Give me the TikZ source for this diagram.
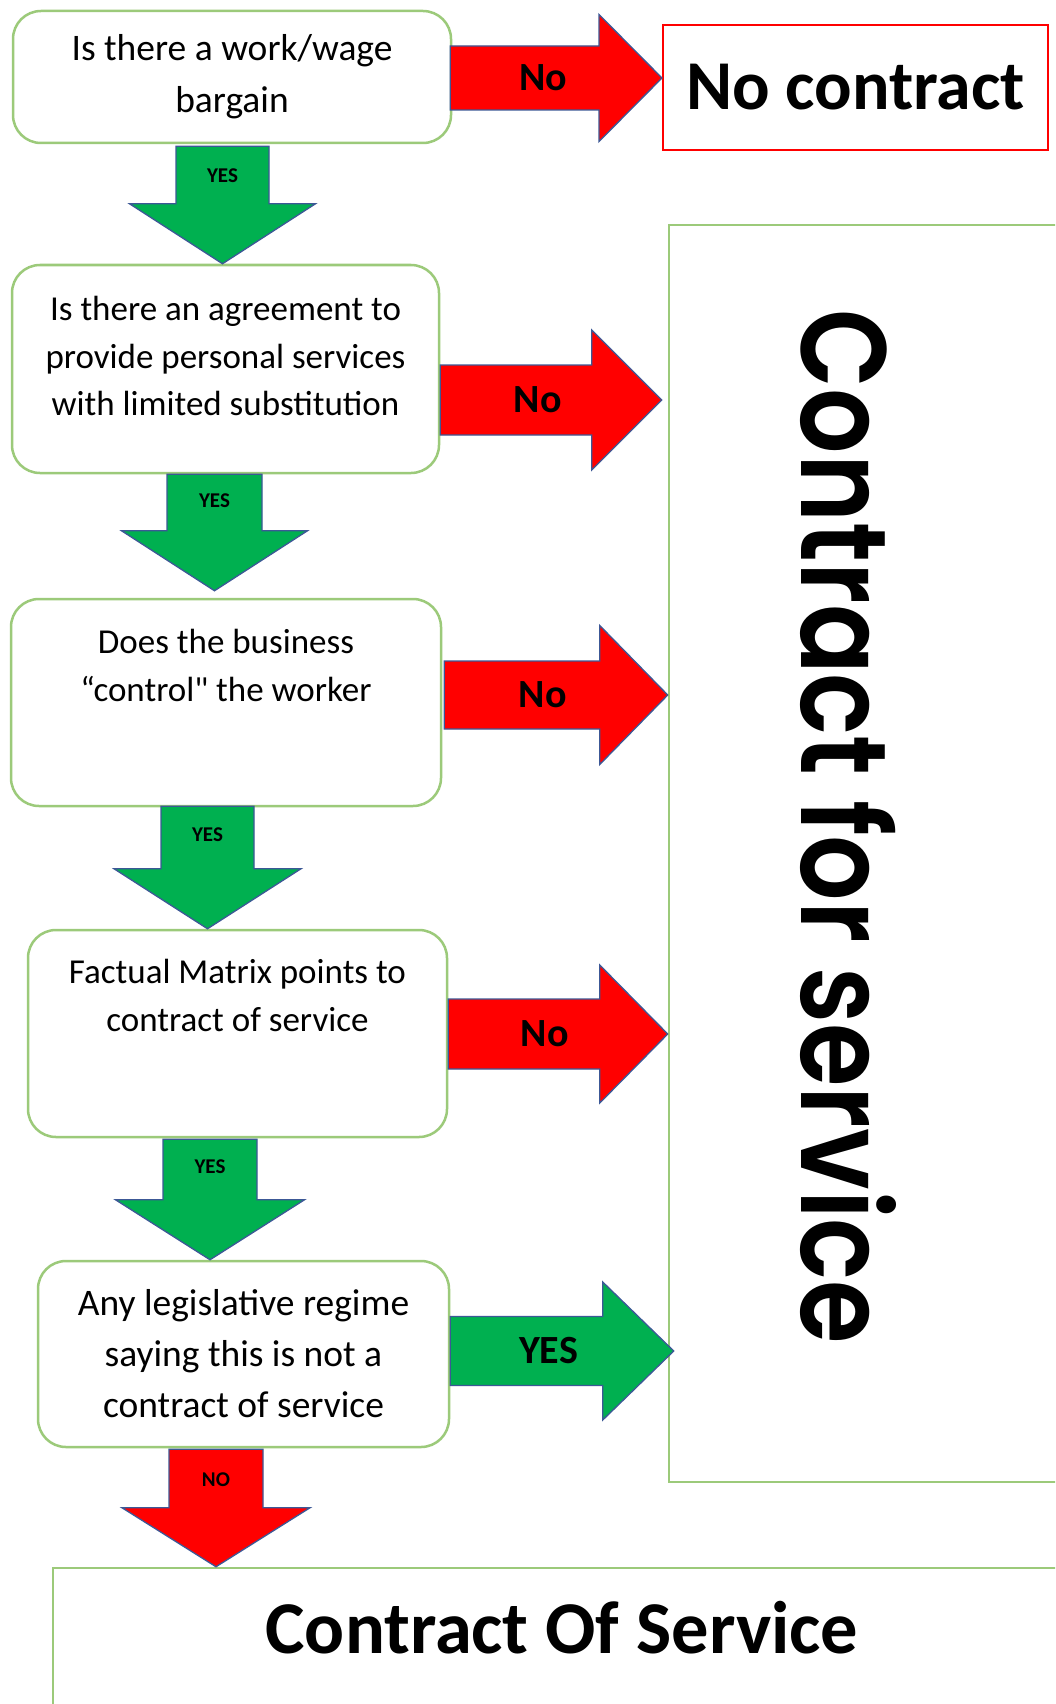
\documentclass[tikz,border=0pt]{standalone}
\usepackage{graphicx}
\usepackage{fontspec}
\setmainfont{Carlito}
\newfontfamily\geofont{Poppins SemiBold}
\usetikzlibrary{calc}

\definecolor{boxgreen}{RGB}{156,202,122}
\definecolor{nogored}{RGB}{255,0,0}
\definecolor{yesgreen}{RGB}{0,176,80}
\definecolor{arrowedge}{RGB}{60,88,150}

% block arrow pointing right: fill, tail, target, shaft half, head half, head length
\newcommand{\harrowbox}[6]{%
  \filldraw[blockarrow, fill=#1]
    ($(#2)+(0,-#4)$) -- ($(#2 -| #3)+(-#6,-#4)$) -- ($(#2 -| #3)+(-#6,-#5)$)
    -- (#2 -| #3) -- ($(#2 -| #3)+(-#6,#5)$) -- ($(#2 -| #3)+(-#6,#4)$)
    -- ($(#2)+(0,#4)$) -- cycle;}
% block arrow pointing down
\newcommand{\varrowbox}[6]{%
  \filldraw[blockarrow, fill=#1]
    ($(#2)+(-#4,0)$) -- ($(#2 |- #3)+(-#4,-#6)$) -- ($(#2 |- #3)+(-#5,-#6)$)
    -- (#2 |- #3) -- ($(#2 |- #3)+(#5,-#6)$) -- ($(#2 |- #3)+(#4,-#6)$)
    -- ($(#2)+(#4,0)$) -- cycle;}
\newcommand{\straightquote}{{\addfontfeatures{Ligatures=TeXOff}"}}

\begin{document}
\begin{tikzpicture}[x=1pt,y=-1pt,
    qbox/.style={draw=boxgreen, line width=2.5pt, rounded corners=28pt, fill=white},
    qtext/.style={align=center, inner sep=0pt},
    endbox/.style={draw=boxgreen, line width=2.5pt},
    blockarrow/.style={draw=arrowedge, line width=1.3pt, line join=miter},
    biglabel/.style={font=\fontsize{40}{40}\selectfont\bfseries},
    smalllabel/.style={font=\fontsize{21}{21}\selectfont\bfseries}]
  \clip (0,0) rectangle (1055,1704);
  \fill[white] (0,0) rectangle (1055,1704);

  % question boxes
  \node[qbox, minimum width=438pt, minimum height=132pt, qtext,
        font=\fontsize{37.5}{52}\selectfont] (q1) at (232,77)
       {Is there a work/wage\\bargain};
  \node[qbox, minimum width=427pt, minimum height=208pt] (q2) at (225.5,369) {};
  \node[qtext, font=\fontsize{35}{47.5}\selectfont] (q2t) at ($(q2)+(0,-13)$)
       {Is there an agreement to\\provide personal services\\with limited substitution};
  \node[qbox, minimum width=430pt, minimum height=207pt] (q3) at (226,702.5) {};
  \node[qtext, font=\fontsize{35}{48}\selectfont] (q3t) at ($(q3)+(0,-37)$)
       {Does the business\\“control\straightquote{} the worker};
  \node[qbox, minimum width=419pt, minimum height=207pt] (q4) at (237.5,1033.5) {};
  \node[qtext, font=\fontsize{35}{48}\selectfont] (q4t) at ($(q4)+(0,-38)$)
       {Factual Matrix points to\\contract of service};
  \node[qbox, minimum width=411pt, minimum height=186pt, qtext,
        font=\fontsize{37.5}{51}\selectfont] (q5) at (243.5,1354)
       {Any legislative regime\\saying this is not a\\contract of service};

  % outcome boxes
  \node[draw=nogored, line width=2pt, minimum width=385pt, minimum height=125pt,
        font=\fontsize{70}{70}\selectfont\bfseries] (nocon) at (855.5,87.5) {No contract};
  \node[endbox, minimum width=401pt, minimum height=1257pt] (cfs) at (869.5,853.5) {};
  \node[rotate=-90, inner sep=0pt] (cfst) at (848,827)
       {\resizebox{1034pt}{95pt}{\geofont Contract for service}};
  \node[endbox, minimum width=1017pt, minimum height=200pt] (cos) at (561.5,1668) {};
  \node[font=\fontsize{74.5}{74.5}\selectfont\bfseries] (cost) at (562,1628) {Contract Of Service};

  % tails and tips of the block arrows
  \coordinate (t1) at ($(q1.east)+(-2,1)$);
  \coordinate (t2) at ($(q2.east)+(0,31)$);
  \coordinate (t3) at ($(q3.east)+(2,-7.5)$);
  \coordinate (t4) at ($(q4.east)+(0,0.5)$);
  \coordinate (t5) at ($(q5.east)+(0,-3)$);
  \coordinate (h2) at ($(cfs.west)+(-6,0)$);
  \coordinate (h5) at ($(cfs.west)+(6,0)$);
  \coordinate (d1) at ($(q1.south)+(-9.5,2)$);
  \coordinate (d2) at ($(q2.south)+(-11,0)$);
  \coordinate (d3) at ($(q3.south)+(-18.5,-1)$);
  \coordinate (d4) at ($(q4.south)+(-27.5,1)$);
  \coordinate (d5) at ($(q5.south)+(-27.5,1)$);
  \coordinate (e2) at ($(q3.north)+(0,-7)$);

  % no / yes arrows to the right
  \harrowbox{nogored}{t1}{nocon.west}{32}{63.5}{63}
  \harrowbox{nogored}{t2}{h2}{35}{70}{70}
  \harrowbox{nogored}{t3}{cfs.west}{34}{69.5}{68}
  \harrowbox{nogored}{t4}{cfs.west}{35}{69}{68}
  \harrowbox{yesgreen}{t5}{h5}{34.5}{69}{71}
  \node[biglabel] (n1) at ($(t1)!0.44!(t1 -| nocon.west)$) {No};
  \node[biglabel] (n2) at ($(t2)!0.44!(t2 -| h2)$) {No};
  \node[biglabel] (n3) at ($(t3)!0.44!(t3 -| cfs.west)$) {No};
  \node[biglabel] (n4) at ($(t4)!0.44!(t4 -| cfs.west)$) {No};
  \node[biglabel] (y5) at ($(t5)!0.44!(t5 -| h5)$) {YES};

  % yes / no arrows downwards
  \varrowbox{yesgreen}{d1}{q2.north}{46.5}{93}{60}
  \varrowbox{yesgreen}{d2}{e2}{47.5}{93}{60}
  \varrowbox{yesgreen}{d3}{q4.north}{46.5}{93.5}{60}
  \varrowbox{yesgreen}{d4}{q5.north}{47}{94.5}{60}
  \varrowbox{nogored}{d5}{cos.north}{47}{94}{59}
  \node[smalllabel] (y1) at ($(d1)!0.25!(d1 |- q2.north)$) {YES};
  \node[smalllabel] (y2) at ($(d2)!0.23!(d2 |- e2)$) {YES};
  \node[smalllabel] (y3) at ($(d3)!0.23!(d3 |- q4.north)$) {YES};
  \node[smalllabel] (y4) at ($(d4)!0.23!(d4 |- q5.north)$) {YES};
  \node[smalllabel] (n5) at ($(d5)!0.26!(d5 |- cos.north)$) {NO};
\end{tikzpicture}
\end{document}
